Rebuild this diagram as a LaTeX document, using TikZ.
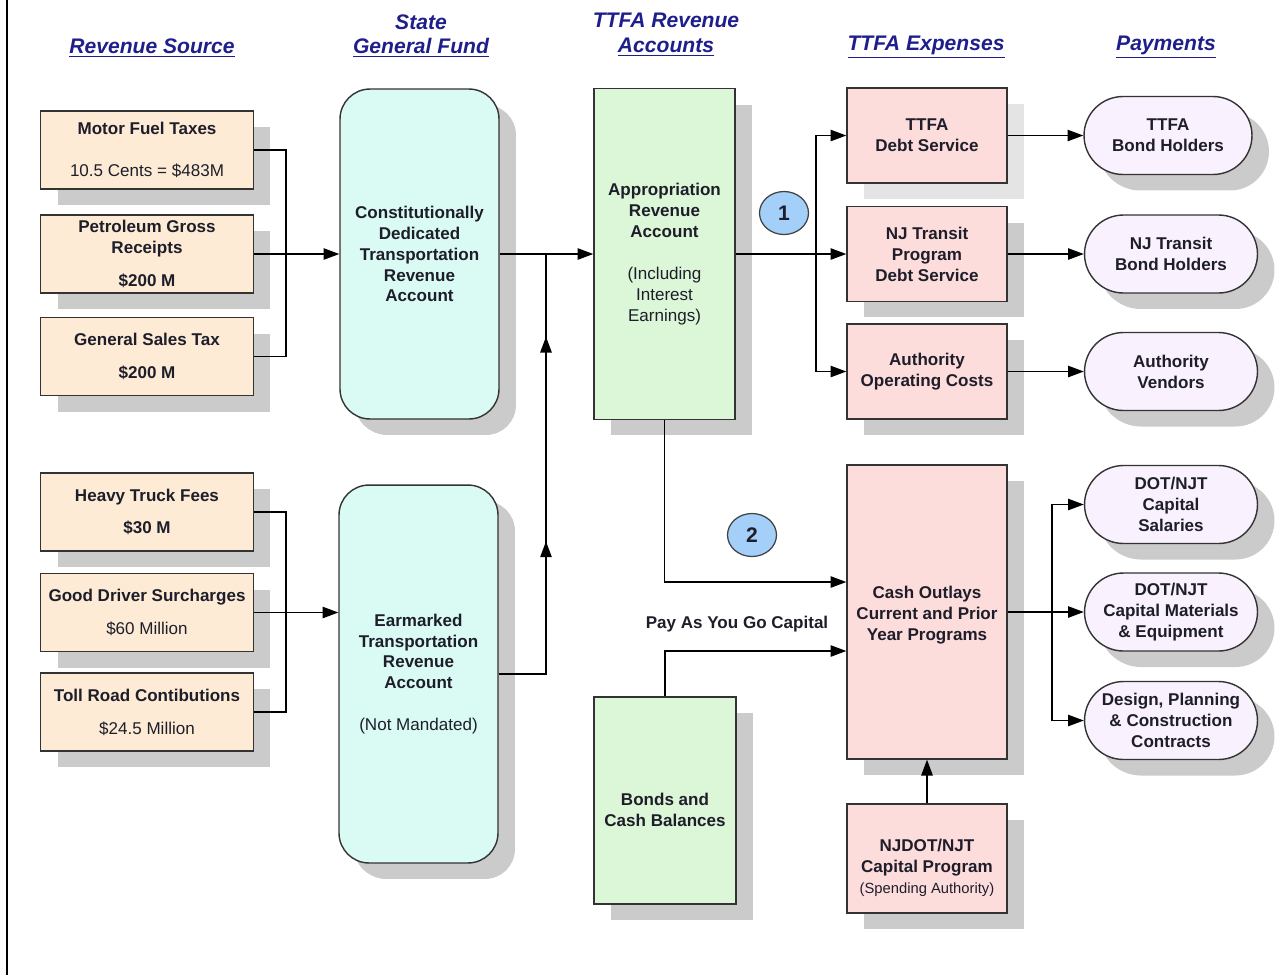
\documentclass[tikz,border=0pt]{standalone}
\usepackage{fontspec}
\setmainfont{Liberation Sans}
\usetikzlibrary{arrows.meta,shadows,shapes.misc,shapes.geometric,decorations.markings}
\definecolor{srcfill}{HTML}{FDEBD6}
\definecolor{fundfill}{HTML}{D9FBF4}
\definecolor{acctfill}{HTML}{DCF6D8}
\definecolor{expfill}{HTML}{FDDCDC}
\definecolor{payfill}{HTML}{F9F1FD}
\definecolor{numfill}{HTML}{A3CFF8}
\definecolor{shadowgray}{HTML}{CBCBCB}
\definecolor{lightshadow}{HTML}{E4E4E4}
\definecolor{hdrblue}{HTML}{1E1E8C}
\definecolor{textdark}{HTML}{1E1E2A}
\begin{document}
\begin{tikzpicture}[x=0.02cm,y=-0.02cm,
  font=\fontsize{9.7}{11.9}\selectfont\bfseries, text=textdark,
  box/.style={draw=black!80, line width=0.8pt, align=center, inner sep=0pt,
    drop shadow={shadow xshift=0.34cm, shadow yshift=-0.32cm, fill=shadowgray, opacity=1}},
  srcbox/.style={box, fill=srcfill, minimum width=4.26cm, minimum height=1.56cm},
  fundbox/.style={box, fill=fundfill, rounded corners=0.6cm, minimum width=3.18cm,
    drop shadow={shadow xshift=0.3cm, shadow yshift=-0.3cm, fill=shadowgray, opacity=1}},
  acctbox/.style={box, fill=acctfill},
  expbox/.style={box, fill=expfill, minimum width=3.2cm},
  paybox/.style={box, fill=payfill, rounded rectangle, minimum width=3.46cm, minimum height=1.56cm,
    drop shadow={shadow xshift=0.3cm, shadow yshift=-0.3cm, fill=shadowgray, opacity=1}},
  num/.style={ellipse, draw=black!75, line width=0.7pt, fill=numfill, minimum width=0.98cm,
    minimum height=0.86cm, inner sep=0pt, font=\fontsize{12}{12}\selectfont\bfseries},
  hdr/.style={font=\fontsize{12}{14.2}\selectfont\bfseries\itshape, text=hdrblue, align=center, inner sep=0pt},
  wire/.style={line width=0.8pt},
  arr/.style={wire, -{Triangle[length=9pt,width=6.5pt]}}]
\useasboundingbox (0,0) rectangle (1285,975);
\draw[line width=1.3pt] (7,0) -- (7,975);

\node[hdr] (hsrc) at (152,48) {\underline{Revenue Source}};
\node[hdr] (hfund) at (421,36) {State\\\underline{General Fund}};
\node[hdr] (hacct) at (666,35) {TTFA Revenue\\\underline{Accounts}};
\node[hdr] (hexp) at (926,47) {\underline{TTFA Expenses}};
\node[hdr] (hpay) at (1166,47) {\underline{Payments}};

\node[srcbox] (fuel) at (147,150) {Motor Fuel Taxes\\[11.9pt]\mdseries 10.5 Cents = \$483M};
\node[srcbox] (petro) at (147,254) {Petroleum Gross\\Receipts\\[6.8pt]\$200 M};
\node[srcbox] (sales) at (147,356.5) {General Sales Tax\\[6.8pt]\$200 M};
\node[srcbox] (truck) at (147,512) {Heavy Truck Fees\\[6.8pt]\$30 M};
\node[srcbox] (driver) at (147,612.5) {Good Driver Surcharges\\[6.8pt]\mdseries \$60 Million};
\node[srcbox] (toll) at (147,712) {Toll Road Contibutions\\[6.8pt]\mdseries \$24.5 Million};

\node[fundbox, minimum height=6.6cm] (cdtra) at (419.5,254) {Constitutionally\\Dedicated\\Transportation\\Revenue\\Account};
\node[fundbox, minimum height=7.56cm] (earmark) at (418.5,674) {Earmarked\\Transportation\\Revenue\\Account\\[11.9pt]\mdseries (Not Mandated)};

\node[acctbox, minimum width=2.82cm, minimum height=6.62cm] (approp) at (664.5,254) {Appropriation\\Revenue\\Account\\[11.9pt]\mdseries (Including\\\mdseries Interest\\\mdseries Earnings)};
\node[acctbox, minimum width=2.84cm, minimum height=4.14cm] (bonds) at (665,800.5) {\rule{0pt}{18pt}Bonds and\\Cash Balances};

\node[expbox, minimum height=1.9cm, drop shadow={shadow xshift=0.34cm, shadow yshift=-0.32cm, fill=lightshadow, opacity=1}] (ttfads) at (927,135.5) {TTFA\\Debt Service};
\node[expbox, minimum height=1.9cm] (njtds) at (927,254) {NJ Transit\\Program\\Debt Service};
\node[expbox, minimum height=1.9cm] (authops) at (927,371.5) {Authority\\Operating Costs};
\node[expbox, minimum height=5.88cm] (cash) at (927,612) {\rule{0pt}{11pt}Cash Outlays\\Current and Prior\\Year Programs};
\node[expbox, minimum height=2.18cm] (capprog) at (927,858.5) {\rule{0pt}{18pt}NJDOT/NJT\\Capital Program\\\mdseries\fontsize{8.4}{10}\selectfont (Spending Authority)};

\node[paybox, minimum width=3.36cm] (ttfabh) at (1168,135.5) {TTFA\\Bond Holders};
\node[paybox] (njtbh) at (1171,254) {NJ Transit\\Bond Holders};
\node[paybox] (authv) at (1171,371.5) {Authority\\Vendors};
\node[paybox] (salaries) at (1171,504.5) {DOT/NJT\\Capital\\Salaries};
\node[paybox] (materials) at (1171,612) {DOT/NJT\\Capital Materials\\\& Equipment};
\node[paybox] (design) at (1171,720.5) {Design, Planning\\\& Construction\\Contracts};

\node[num] (one) at (784,213) {1};
\node[num] (two) at (752,535) {2};
\node (paygo) at (737,624) {Pay As You Go Capital};

\draw[wire] (fuel.east) -- ++(32,0) |- (sales.east);
\draw[arr] (petro.east) -- (cdtra.west);
\draw[wire] (truck.east) -- ++(32,0) |- (toll.east);
\draw[arr] (driver.east) -- (driver.east -| earmark.west);

\coordinate (jup) at (546,254);
\draw[wire, postaction={decorate}, decoration={markings,
  mark=at position 0.385 with {\arrow{Triangle[length=9pt,width=6.5pt]}},
  mark=at position 0.823 with {\arrow{Triangle[length=9pt,width=6.5pt]}}}]
  (earmark.east) -| (jup);
\draw[arr] (cdtra.east) -- (approp.west);

\coordinate (split1) at (816,254);
\draw[arr] (approp.east) -- (njtds.west);
\draw[arr] (split1) |- (ttfads.west);
\draw[arr] (split1) |- (authops.west);
\draw[arr] (ttfads.east) -- (ttfads.east -| ttfabh.west);
\draw[arr] (njtds.east) -- (njtbh.west);
\draw[arr] (authops.east) -- (authv.west);

\draw[arr] (approp.south) |- ([yshift=0.6cm]cash.west);
\draw[arr] (bonds.north) |- ([yshift=-0.78cm]cash.west);
\draw[arr] (capprog.north) -- (cash.south);

\coordinate (split2) at (1052,612);
\draw[arr] (cash.east) -- (materials.west);
\draw[arr] (split2) |- (salaries.west);
\draw[arr] (split2) |- (design.west);
\end{tikzpicture}
\end{document}
